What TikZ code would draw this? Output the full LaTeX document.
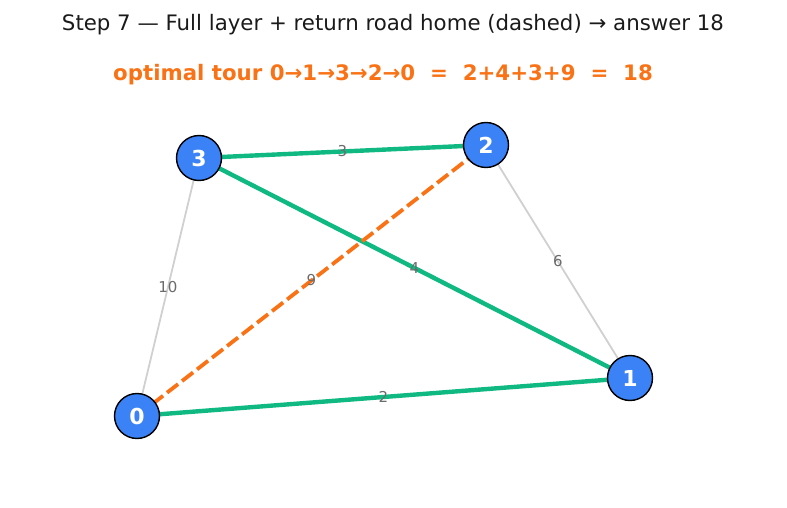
\documentclass[tikz,border=0pt]{standalone}
\usepackage{fontspec}
\setmainfont{DejaVu Sans}
\definecolor{NodeBlue}{HTML}{3B82F6}
\definecolor{TourGreen}{HTML}{10B981}
\definecolor{HomeOrange}{HTML}{F97316}
\definecolor{RoadGray}{HTML}{D0D0D0}
\definecolor{LabelGray}{HTML}{6B6B6B}
\definecolor{TitleInk}{HTML}{1A1A1A}
\usetikzlibrary{positioning, calc, backgrounds}

\begin{document}
\begin{tikzpicture}[
  x=1pt, y=-1pt,
  city/.style={circle, draw=black, line width=1.4pt, fill=NodeBlue,
               minimum size=45pt, inner sep=0pt, text=white,
               font=\fontsize{22}{22}\selectfont\bfseries},
  road/.style={RoadGray, line width=1.8pt},
  tour/.style={TourGreen, line width=4.4pt},
  home/.style={HomeOrange, line width=3.8pt, dash pattern=on 14pt off 5pt},
  cost/.style={text=LabelGray, font=\fontsize{15}{15}\selectfont, inner sep=0pt}
]
  \useasboundingbox (0,0) rectangle (787,508);

  % titles
  \node[text=TitleInk, font=\fontsize{21.3}{22}\selectfont] (title) at (393,25)
    {Step 7 — Full layer + return road home (dashed) → answer 18};
  \node[text=HomeOrange, font=\fontsize{21.3}{22}\selectfont\bfseries] (tour) at (383,75)
    {optimal tour 0→1→3→2→0 \ = \ 2+4+3+9 \ = \ 18};

  % cities
  \node[city] (c0) at (137,416) {0};
  \node[city] (c1) at (630,378) {1};
  \node[city] (c2) at (486,145) {2};
  \node[city] (c3) at (199,158) {3};

  % roads, behind the cities
  \begin{scope}[on background layer]
    \draw[road] (c0.center) -- (c3.center);
    \draw[road] (c2.center) -- (c1.center);
    \draw[tour] (c3.center) -- (c2.center);
    \draw[tour] (c3.center) -- (c1.center);
    \draw[tour] (c0.center) -- (c1.center);
    \draw[home] (c0.center) -- (c2.center);
  \end{scope}

  % costs
  \node[cost] (w03) at ($(c0)!0.5!(c3)$) {10};
  \node[cost] (w21) at ($(c2)!0.5!(c1)$) {6};
  \node[cost] (w32) at ($(c3)!0.5!(c2)$) {3};
  \node[cost] (w31) at ($(c3)!0.5!(c1)$) {4};
  \node[cost] (w01) at ($(c0)!0.5!(c1)$) {2};
  \node[cost] (w02) at ($(c0)!0.5!(c2)$) {9};
\end{tikzpicture}
\end{document}
